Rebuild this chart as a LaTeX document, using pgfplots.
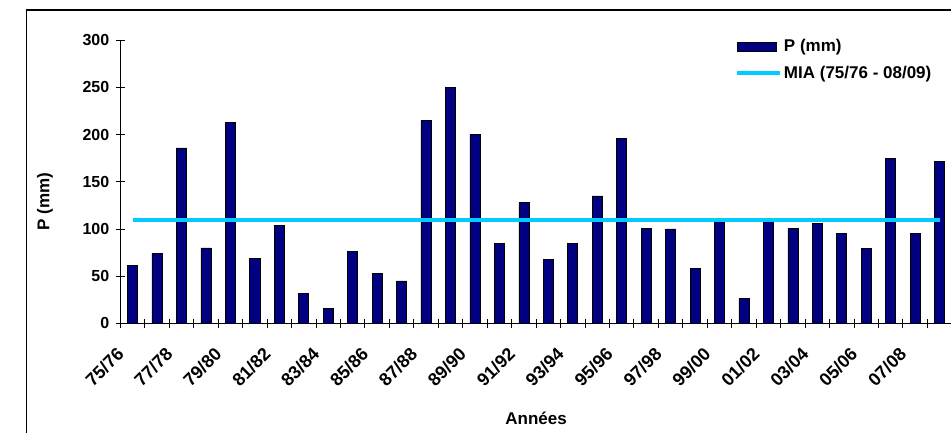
\documentclass[border=0pt]{standalone}
\usepackage{pgfplots}
\pgfplotsset{compat=1.18}
\usepackage{fontspec}
\setmainfont{Liberation Sans}
\definecolor{barnavy}{RGB}{0,0,128}
\definecolor{miacyan}{RGB}{0,204,255}
\begin{document}
\begin{tikzpicture}[x=1pt,y=1pt]
\useasboundingbox (0,0) rectangle (951,432);
\clip (0,0) rectangle (951,432);
\draw[line width=1.6pt] (26.3,-20) -- (26.3,422) -- (980,422);
\begin{axis}[
  at={(120.3pt,108.7pt)}, anchor=south west,
  scale only axis, width=831.5pt, height=283pt,
  xmin=-0.5, xmax=33.5, ymin=0, ymax=300,
  axis lines=left, axis line style={-, line width=0.8pt},
  ytick={0,50,...,300},
  xtick={0,2,...,32},
  xticklabels={75/76,77/78,79/80,81/82,83/84,85/86,87/88,89/90,91/92,93/94,95/96,97/98,99/00,01/02,03/04,05/06,07/08},
  major x tick style={draw=none},
  minor xtick={-0.5,0.5,...,33.5},
  minor tick length=9pt, major tick length=9pt,
  tick align=center,
  tick style={black, line width=0.8pt},
  font=\fontsize{16}{18}\selectfont\bfseries,
  tick label style={font=\fontsize{16}{18}\selectfont\bfseries},
  yticklabel style={xshift=-3pt},
  xticklabel style={font=\fontsize{18}{20}\selectfont\bfseries, xshift=-12pt, yshift=-23pt, rotate=45, anchor=east, inner sep=0pt},
  /pgf/number format/assume math mode=true,
  xlabel={Années}, ylabel={P (mm)},
  xlabel style={at={(axis description cs:0.5,-0.336)}, anchor=center, font=\fontsize{17}{19}\selectfont\bfseries},
  ylabel style={at={(axis description cs:-0.0906,0.429)}, anchor=center, rotate=0, font=\fontsize{17}{19}\selectfont\bfseries},
  legend style={at={(0.739,1.01)}, anchor=north west, draw=none, fill=none,
    font=\fontsize{17}{19}\selectfont\bfseries, row sep=9pt, inner sep=0pt,
    cells={anchor=west}},
  clip=false,
]
\addplot[ybar, bar width=0.41, fill=barnavy, draw=black, line width=0.6pt,
  legend image code/.code={\draw[fill=barnavy,draw=black,line width=0.6pt] (0pt,-4.5pt) rectangle (39pt,4.5pt);}]
coordinates {
(0,61) (1,74) (2,186) (3,80) (4,213) (5,69) (6,104) (7,32) (8,16) (9,76)
(10,53) (11,45) (12,215) (13,250) (14,200) (15,85) (16,128) (17,68) (18,85) (19,135)
(20,196) (21,101) (22,100) (23,58) (24,111) (25,26) (26,111) (27,101) (28,106) (29,95)
(30,79) (31,175) (32,95) (33,172)
};
\addlegendentry{P (mm)}
\addplot[miacyan, line width=4pt,
  legend image code/.code={\draw[miacyan,line width=4pt] (0pt,0pt) -- (43pt,0pt);}]
coordinates {(0,109) (33,109)};
\addlegendentry{MIA (75/76 - 08/09)}
\end{axis}
\end{tikzpicture}
\end{document}
